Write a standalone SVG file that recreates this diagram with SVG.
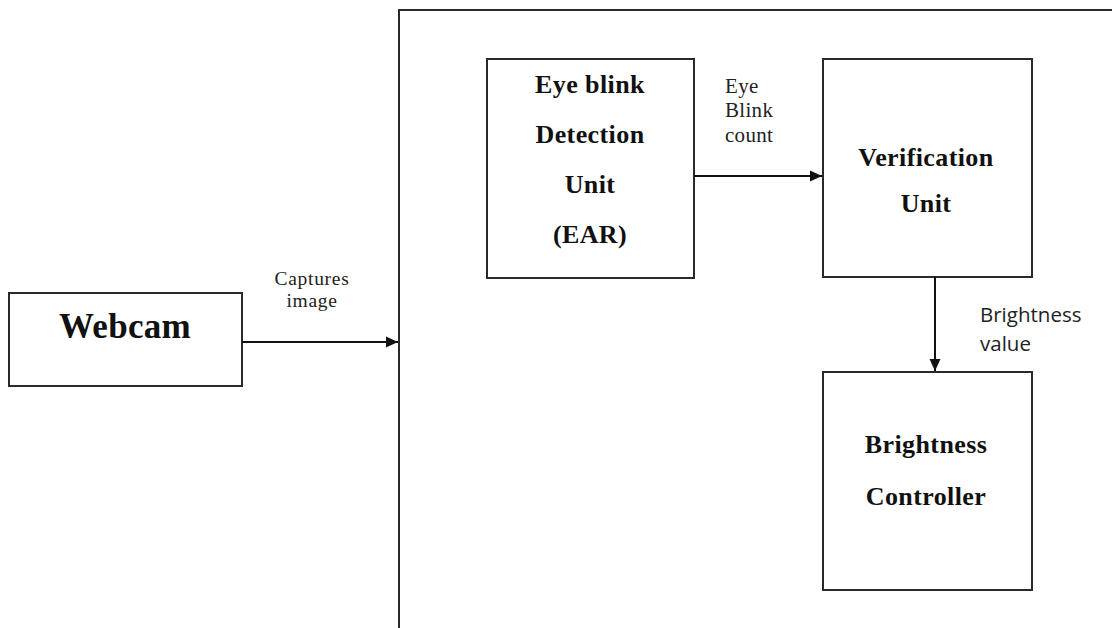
<svg xmlns="http://www.w3.org/2000/svg" width="1112" height="628" viewBox="0 0 1112 628">
  <style>
    .box { fill: #ffffff; stroke: #2a2a2a; stroke-width: 2; }
    .frame { fill: none; stroke: #2a2a2a; stroke-width: 2; }
    .edge { fill: none; stroke: #111111; stroke-width: 2; }
    .title { font-family: "Liberation Serif", "Times New Roman", serif; font-weight: bold; font-size: 26px; letter-spacing: 0.4px; fill: #111111; text-anchor: middle; }
    .big { font-size: 35px; letter-spacing: 0.3px; }
    .serif-label { font-family: "Liberation Serif", "Times New Roman", serif; font-size: 21px; letter-spacing: 0.3px; fill: #222222; }
    .small { font-size: 19.5px; letter-spacing: 0.7px; }
    .sans-label { font-family: "Open Sans", "Liberation Sans", sans-serif; font-size: 20.5px; fill: #222222; }
  </style>
  <defs>
    <marker id="arrow" viewBox="0 0 12 12" refX="12" refY="6" markerWidth="12" markerHeight="12" markerUnits="userSpaceOnUse" orient="auto">
      <path d="M0,0.5 L12,6 L0,11.5 z" fill="#111111"/>
    </marker>
  </defs>

  <rect width="1112" height="628" fill="#ffffff"/>

  <!-- processing system enclosure (runs past the right and bottom edges) -->
  <g id="system">
    <rect class="frame" x="399" y="10" width="800" height="700"/>
  </g>

  <g id="webcam">
    <rect class="box" x="9" y="293" width="233" height="93"/>
    <text class="title big" x="125" y="338">Webcam</text>
  </g>

  <g id="blink-detection">
    <rect class="box" x="487" y="59" width="207" height="219"/>
    <text class="title" x="590" y="93">Eye blink</text>
    <text class="title" x="590" y="143">Detection</text>
    <text class="title" x="590" y="193">Unit</text>
    <text class="title" x="590" y="243">(EAR)</text>
  </g>

  <g id="verification">
    <rect class="box" x="823" y="59" width="209" height="218"/>
    <text class="title" x="926" y="166">Verification</text>
    <text class="title" x="926" y="212">Unit</text>
  </g>

  <g id="brightness-controller">
    <rect class="box" x="823" y="372" width="209" height="218"/>
    <text class="title" x="926" y="453">Brightness</text>
    <text class="title" x="926" y="505">Controller</text>
  </g>

  <g id="connectors">
    <line class="edge" x1="242" y1="342" x2="398" y2="342" marker-end="url(#arrow)"/>
    <line class="edge" x1="694" y1="176" x2="822" y2="176" marker-end="url(#arrow)"/>
    <line class="edge" x1="935" y1="277" x2="935" y2="371" marker-end="url(#arrow)"/>

    <text class="serif-label small" x="312" y="285" text-anchor="middle">Captures</text>
    <text class="serif-label small" x="312" y="307" text-anchor="middle">image</text>

    <text class="serif-label" x="725" y="93">Eye</text>
    <text class="serif-label" x="725" y="117">Blink</text>
    <text class="serif-label" x="725" y="142">count</text>

    <text class="sans-label" x="980" y="322">Brightness</text>
    <text class="sans-label" x="980" y="351">value</text>
  </g>
</svg>
